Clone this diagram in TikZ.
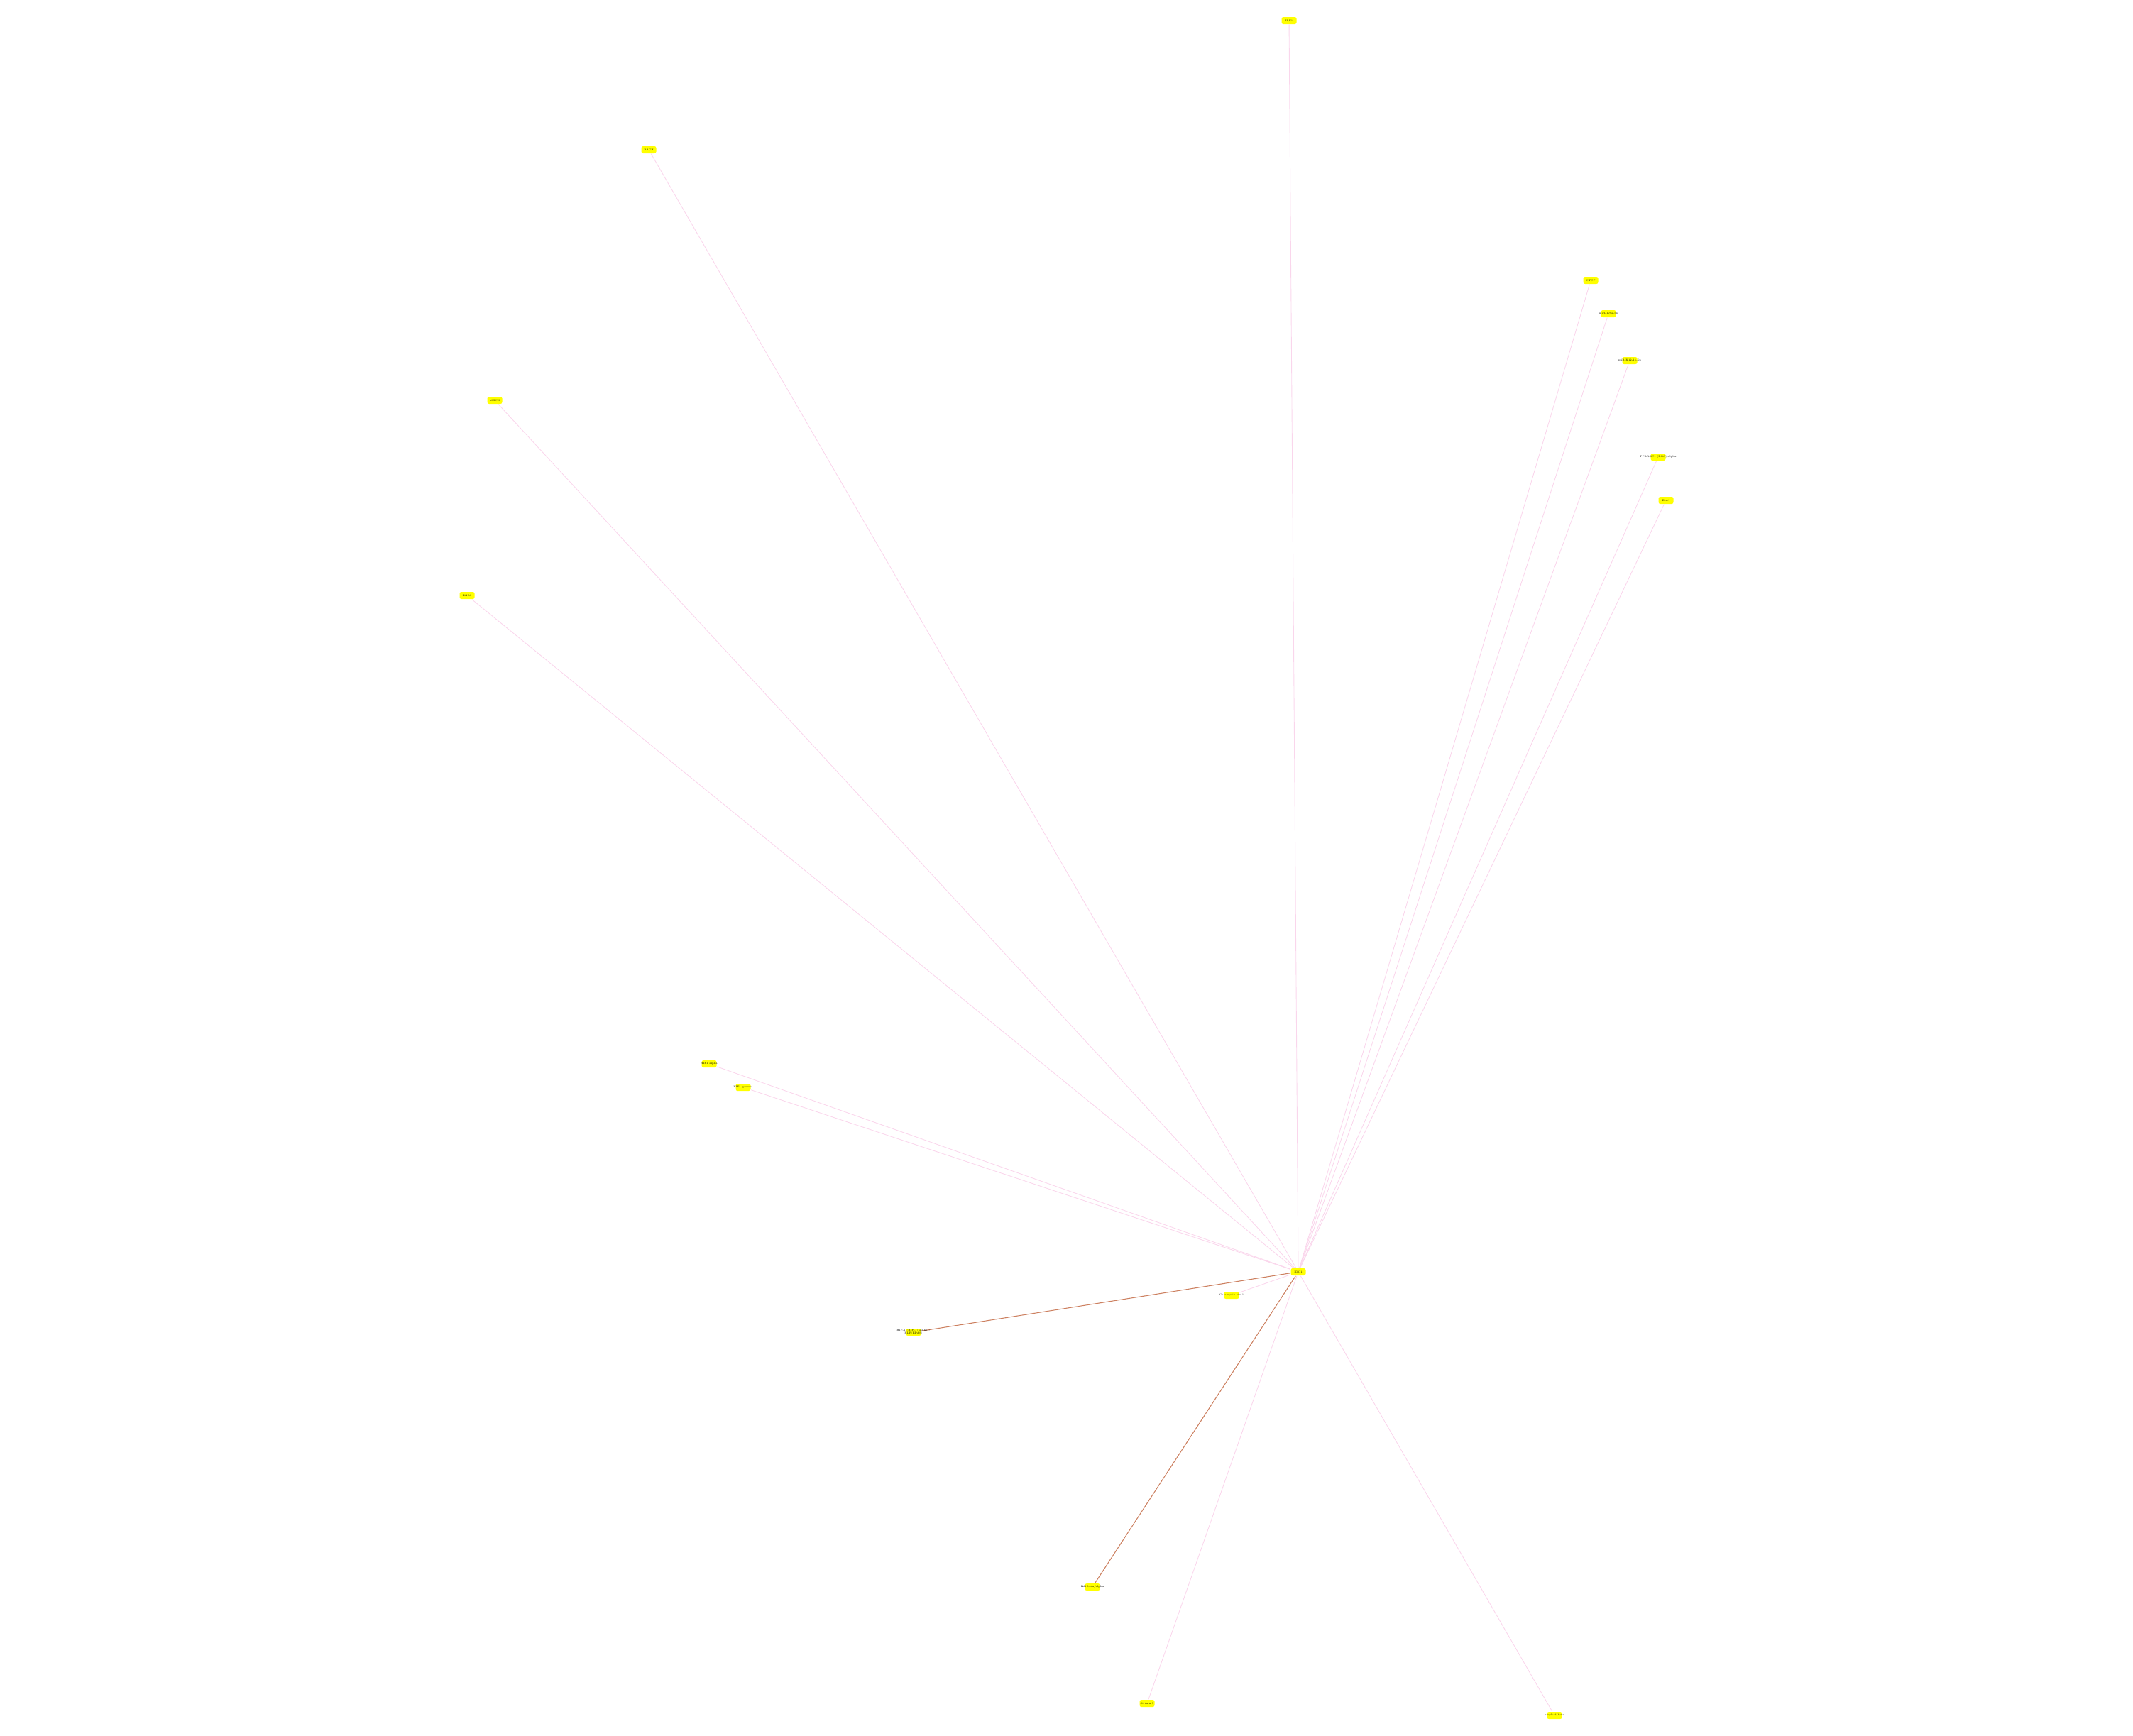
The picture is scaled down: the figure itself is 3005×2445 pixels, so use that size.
\documentclass[tikz,border=0pt]{standalone}
\usetikzlibrary{backgrounds}
\definecolor{hitpink}{RGB}{250,214,236}
\definecolor{hitbrown}{RGB}{204,128,96}
\definecolor{genefill}{RGB}{255,255,0}
\newcommand{\lbl}[1]{\makebox[0pt]{#1}}
\tikzset{
  gene/.style={fill=genefill, rounded corners=0.25mm, minimum width=2.1mm,
    minimum height=1mm, inner sep=0pt, font=\fontsize{1}{1.2}\selectfont},
  link/.style={hitpink, line width=0.25pt},
  strong/.style={hitbrown, line width=0.3pt}
}
\begin{document}
\begin{tikzpicture}[x=0.1mm, y=-0.1mm]
\useasboundingbox (0,0) rectangle (3005,2445);
\node[gene] (ido) at (1829,1792) {\lbl{IDO1}};
\node[gene] (irf) at (1816,29) {\lbl{IRF1}};
\node[gene] (bach) at (914,211) {\lbl{BACH}};
\node[gene] (mech) at (697,564) {\lbl{MECH}};
\node[gene] (egr) at (658,839) {\lbl{EGR1}};
\node[gene] (ctcf) at (2241,395) {\lbl{CTCF}};
\node[gene] (mira) at (2266,442) {\lbl{miR-199a-5p}};
\node[gene] (mirk) at (2296,508) {\lbl{miR-K12-11-5p}};
\node[gene] (ppar) at (2336,644) {\lbl{PPARGC1 (PGC)-alpha}};
\node[gene] (ets) at (2347,705) {\lbl{Ets-1}};
\node[gene] (hifa) at (999,1499) {\lbl{HIF1 alpha}};
\node[gene] (hifg) at (1047,1532) {\lbl{HIF1 gamma}};
\node[gene] (chla) at (1735,1825) {\lbl{Chlamydin sin 1}};
\node[gene] (hlf) at (1287,1877) {\lbl{\begin{tabular}{@{}c@{}}HIF-1 (HIF-1) alpha /\\[-0.3pt]HLF(EPAS)\end{tabular}}};
\node[gene] (ikb) at (1539,2236) {\lbl{IkB beta/alpha}};
\node[gene] (sirt) at (1616,2400) {\lbl{Sirtuin 5}};
\node[gene] (amyl) at (2190,2417) {\lbl{amyloid beta}};
\begin{scope}[on background layer]
\draw[link] (ido) -- (irf);
\draw[link] (ido) -- (bach);
\draw[link] (ido) -- (mech);
\draw[link] (ido) -- (egr);
\draw[link] (ido) -- (ctcf);
\draw[link] (ido) -- (mira);
\draw[link] (ido) -- (mirk);
\draw[link] (ido) -- (ppar);
\draw[link] (ido) -- (ets);
\draw[link] (ido) -- (hifa);
\draw[link] (ido) -- (hifg);
\draw[link] (ido) -- (chla);
\draw[strong] (ido) -- (hlf);
\draw[strong] (ido) -- (ikb);
\draw[link] (ido) -- (sirt);
\draw[link] (ido) -- (amyl);
\end{scope}
\end{tikzpicture}
\end{document}
